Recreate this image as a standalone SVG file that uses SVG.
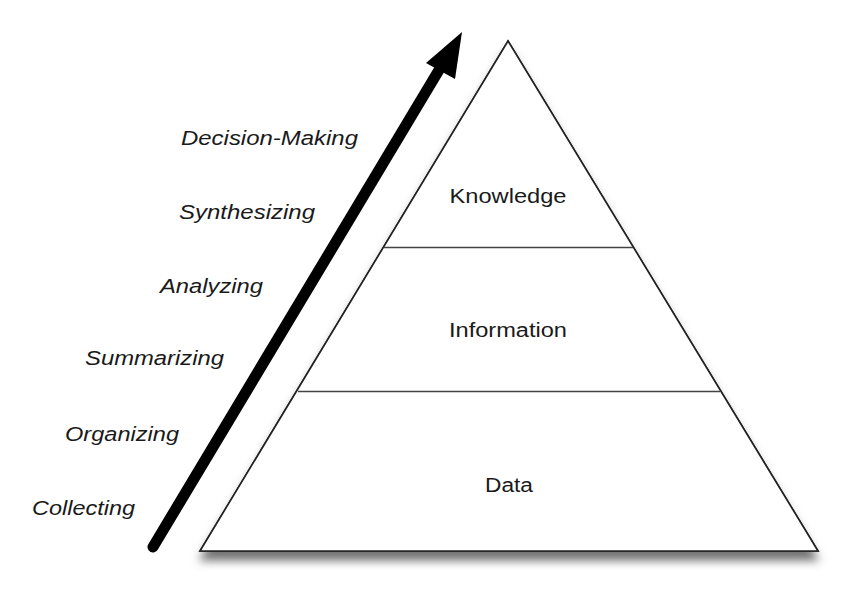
<svg xmlns="http://www.w3.org/2000/svg" width="850" height="591" viewBox="0 0 850 591">
  <defs>
    <filter id="shadow" x="-10%" y="-10%" width="120%" height="125%">
      <feDropShadow dx="0" dy="9" stdDeviation="5" flood-color="#000" flood-opacity="0.55"/>
    </filter>
  </defs>
  <style>
    .step { font-family: "Liberation Sans", Arial, sans-serif; font-size: 20px; font-style: italic; fill: #1a1a1a; }
    .level { font-family: "Liberation Sans", Arial, sans-serif; font-size: 20px; fill: #1a1a1a; text-anchor: middle; }
    .edge { fill: #fff; stroke: #222; stroke-width: 1.6; stroke-linejoin: miter; }
    .divider { stroke: #444; stroke-width: 1.6; fill: none; }
  </style>
  <rect width="850" height="591" fill="#fff"/>

  <!-- pyramid body -->
  <g id="pyramid">
    <polygon class="edge" points="508,41 818,551 200,551" filter="url(#shadow)"/>
    <polygon class="edge" points="508,41 818,551 200,551"/>
  </g>

  <g id="level-knowledge">
    <text class="level" x="508" y="203" textLength="117" lengthAdjust="spacingAndGlyphs">Knowledge</text>
  </g>
  <g id="level-information">
    <line class="divider" x1="384" y1="247.5" x2="633" y2="247.5"/>
    <text class="level" x="508" y="337" textLength="118" lengthAdjust="spacingAndGlyphs">Information</text>
  </g>
  <g id="level-data">
    <line class="divider" x1="298" y1="391.5" x2="720" y2="391.5"/>
    <text class="level" x="509" y="492" textLength="48" lengthAdjust="spacingAndGlyphs">Data</text>
  </g>

  <!-- upward process arrow -->
  <g id="connectors">
    <line x1="153" y1="547" x2="439" y2="70" stroke="#000" stroke-width="11" stroke-linecap="round"/>
    <polygon points="462,32 455,79 426,63" fill="#000"/>
  </g>

  <g id="steps">
    <text class="step" x="181" y="145" textLength="177" lengthAdjust="spacingAndGlyphs">Decision-Making</text>
    <text class="step" x="179" y="219" textLength="136" lengthAdjust="spacingAndGlyphs">Synthesizing</text>
    <text class="step" x="160" y="293" textLength="103" lengthAdjust="spacingAndGlyphs">Analyzing</text>
    <text class="step" x="85" y="365" textLength="139" lengthAdjust="spacingAndGlyphs">Summarizing</text>
    <text class="step" x="65" y="441" textLength="114" lengthAdjust="spacingAndGlyphs">Organizing</text>
    <text class="step" x="32" y="515" textLength="103" lengthAdjust="spacingAndGlyphs">Collecting</text>
  </g>
</svg>
